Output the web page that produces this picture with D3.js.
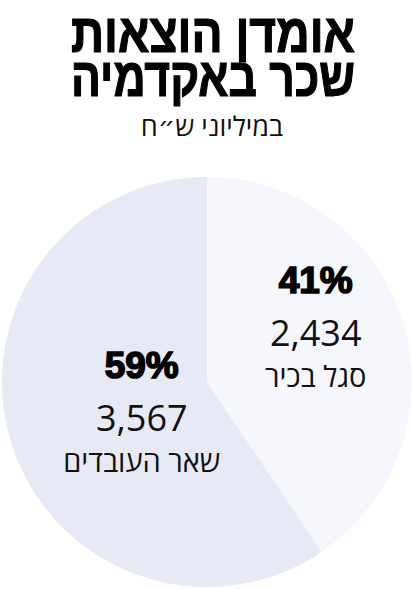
<!DOCTYPE html>
<html>
    <head>
        <meta charset="UTF-8">
        <title>pie</title>
        <style type="text/css">
            body {
                margin: 0;
                background: #ffffff;
            }
            svg {
                display: block;
            }
        </style>
        <script src="https://d3js.org/d3.v7.min.js"></script>
    </head>
    <body>
        <div id="chart"></div>
        <script>
            // data
            const titleLines = ["אומדן הוצאות", "שכר באקדמיה"];
            const subtitle = "במיליוני ש״ח";
            const categories = ["סגל בכיר", "שאר העובדים"];
            const values = [2434, 3567];
            const percentLabels = ["41%", "59%"];
            const colors = ["#f5f7fd", "#e7eaf4"];

            const width = 412, height = 589;
            const cx = 207, cy = 382, radius = 205;
            // label placement per slice: angle nudge (deg) and distance from centre
            const labelNudge = [-10, -8];
            const labelDist = [122, 72];

            const svg = d3.select("#chart")
                .append("svg")
                .attr("width", width)
                .attr("height", height);

            // title
            const title = svg.append("g")
                .attr("font-family", "'Liberation Sans', Arial, sans-serif")
                .attr("font-weight", "bold")
                .attr("font-size", 54)
                .attr("fill", "#000");
            titleLines.forEach((t, i) => {
                title.append("text")
                    .attr("x", 213)
                    .attr("y", 52 + i * 44)
                    .attr("text-anchor", "middle")
                    .attr("direction", "rtl")
                    .attr("textLength", 284)
                    .attr("lengthAdjust", "spacingAndGlyphs")
                    .attr("stroke", "#000")
                    .attr("stroke-width", 1.2)
                    .text(t);
            });

            svg.append("text")
                .attr("x", 212)
                .attr("y", 136)
                .attr("text-anchor", "middle")
                .attr("direction", "rtl")
                .attr("font-family", "'Open Sans', 'DejaVu Sans', sans-serif")
                .attr("font-size", 27)
                .attr("fill", "#111")
                .text(subtitle);

            // pie
            const pie = d3.pie().sort(null).value(d => d);
            const arcs = pie(values);
            const arc = d3.arc().innerRadius(0).outerRadius(radius);

            const g = svg.append("g")
                .attr("transform", `translate(${cx}, ${cy})`);

            g.selectAll("path")
                .data(arcs)
                .join("path")
                .attr("d", arc)
                .attr("fill", (d, i) => colors[i]);

            const labels = g.selectAll("g.label")
                .data(arcs)
                .join("g")
                .attr("class", "label")
                .attr("transform", (d, i) => {
                    const a = (d.startAngle + d.endAngle) / 2 + labelNudge[i] * Math.PI / 180;
                    const r = labelDist[i];
                    return `translate(${r * Math.sin(a)}, ${-r * Math.cos(a)})`;
                })
                .attr("text-anchor", "middle");

            labels.append("text")
                .attr("y", -34)
                .attr("font-family", "'Liberation Sans', Arial, sans-serif")
                .attr("font-weight", "bold")
                .attr("font-size", 37)
                .attr("stroke", "#000")
                .attr("stroke-width", 1.6)
                .attr("fill", "#000")
                .text((d, i) => percentLabels[i]);

            labels.append("text")
                .attr("y", 19)
                .attr("font-family", "'Open Sans', 'DejaVu Sans', sans-serif")
                .attr("font-size", 36)
                .attr("fill", "#111")
                .text(d => d3.format(",")(d.data));

            labels.append("text")
                .attr("y", 60)
                .attr("direction", "rtl")
                .attr("font-family", "'Open Sans', 'DejaVu Sans', sans-serif")
                .attr("font-size", 29)
                .attr("fill", "#111")
                .text((d, i) => categories[i]);
        </script>
    </body>
</html>
